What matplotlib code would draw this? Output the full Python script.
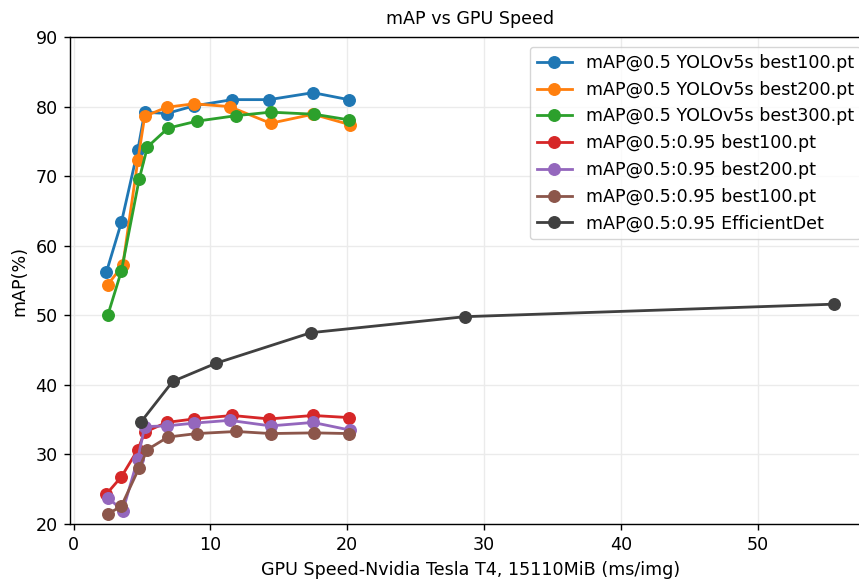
import matplotlib
matplotlib.use("Agg")
import matplotlib.pyplot as plt

# GPU speed (ms/img) and mAP (%) for each model
speed_b100 = [2.4, 3.5, 4.7, 5.2, 6.8, 8.8, 11.6, 14.3, 17.5, 20.1]
map50_b100 = [56.2, 63.4, 73.8, 79.2, 79.0, 80.1, 81.0, 81.0, 82.0, 81.0]

speed_b200 = [2.5, 3.6, 4.7, 5.2, 6.8, 8.8, 11.4, 14.4, 17.5, 20.2]
map50_b200 = [54.4, 57.2, 72.3, 78.6, 79.9, 80.4, 80.0, 77.6, 78.9, 77.4]

speed_b300 = [2.5, 3.5, 4.8, 5.4, 6.9, 9.0, 11.9, 14.4, 17.6, 20.1]
map50_b300 = [50.0, 56.4, 69.6, 74.2, 76.9, 77.9, 78.7, 79.2, 78.9, 78.1]

map5095_b100 = [24.3, 26.8, 30.7, 33.2, 34.6, 35.1, 35.6, 35.1, 35.6, 35.3]
map5095_b200 = [23.8, 21.9, 29.4, 34.0, 34.1, 34.5, 34.9, 34.1, 34.6, 33.5]
map5095_b300 = [21.4, 22.6, 28.1, 30.7, 32.5, 33.0, 33.3, 33.0, 33.1, 33.0]

speed_effdet = [4.9, 7.25, 10.4, 17.35, 28.6, 55.6]
map_effdet = [34.6, 40.5, 43.1, 47.5, 49.8, 51.6]

s = 1.26  # everything looks like default styling scaled up a bit
plt.rcParams['font.family'] = 'DejaVu Sans'
plt.rcParams['axes.linewidth'] = 0.8 * s
plt.rcParams['xtick.major.size'] = 3.5 * s
plt.rcParams['ytick.major.size'] = 3.5 * s
plt.rcParams['xtick.major.width'] = 0.8 * s
plt.rcParams['ytick.major.width'] = 0.8 * s

fig = plt.figure(figsize=(8.59, 5.83), dpi=100)
# the reference is cropped on the right, so the axes run past the figure edge
ax = fig.add_axes([0.0815, 0.1012, 0.932, 0.8353])

kw = dict(marker='o', markersize=8.3, linewidth=1.6 * s)
ax.plot(speed_b100, map50_b100, color='C0', label='mAP@0.5 YOLOv5s best100.pt', **kw)
ax.plot(speed_b200, map50_b200, color='C1', label='mAP@0.5 YOLOv5s best200.pt', **kw)
ax.plot(speed_b300, map50_b300, color='C2', label='mAP@0.5 YOLOv5s best300.pt', **kw)
ax.plot(speed_b100, map5095_b100, color='C3', label='mAP@0.5:0.95 best100.pt', **kw)
ax.plot(speed_b200, map5095_b200, color='C4', label='mAP@0.5:0.95 best200.pt', **kw)
ax.plot(speed_b300, map5095_b300, color='C5', label='mAP@0.5:0.95 best100.pt', **kw)
ax.plot(speed_effdet, map_effdet, color='#404040', label='mAP@0.5:0.95 EfficientDet', **kw)

ax.set_ylim(20, 90)
ax.set_title('mAP vs GPU Speed', fontsize=10 * s, pad=7.5 * s)
ax.set_xlabel('GPU Speed-Nvidia Tesla T4, 15110MiB (ms/img)', fontsize=10 * s, labelpad=4 * s)
ax.set_ylabel('mAP(%)', fontsize=10 * s, labelpad=4 * s)
ax.tick_params(labelsize=10 * s, pad=3.5 * s)
ax.grid(True, color='#ebebeb', linewidth=0.8 * s)
ax.set_axisbelow(True)
ax.legend(loc='upper right', fontsize=10 * s, borderaxespad=0.45 * s)

fig.savefig('out.png', dpi=100)
